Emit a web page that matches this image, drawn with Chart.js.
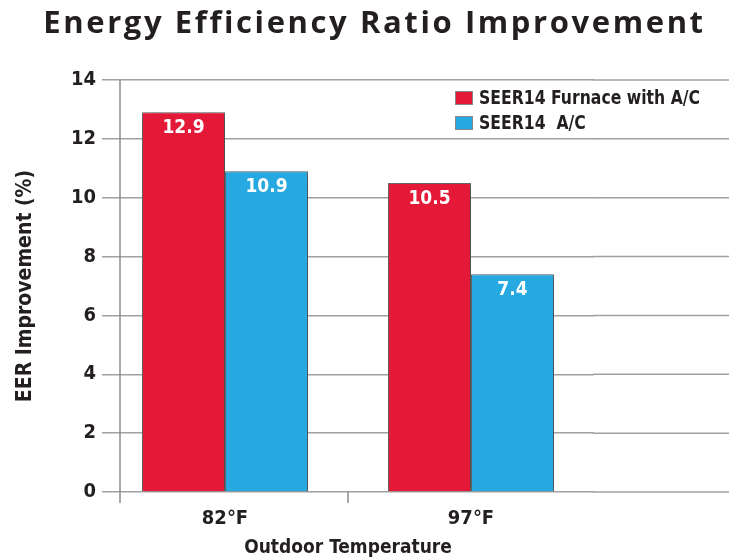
<!DOCTYPE html>
<html>
<head>
    <meta charset="utf-8">
    <title>Energy Efficiency Ratio Improvement</title>
    <script src="https://cdn.jsdelivr.net/npm/chart.js"></script>
    <style>
        html, body {
            margin: 0;
            background: #fff;
        }

        #wrap {
            position: relative;
            width: 729px;
            height: 559px;
        }

        #titulo {
            position: absolute;
            top: 0;
            left: 10px;
            width: 729px;
            text-align: center;
            font-family: 'Open Sans', sans-serif;
            font-weight: 700;
            font-size: 31px;
            letter-spacing: 2.6px;
            color: #231f20;
        }
    </style>
</head>
<body>
    <div id="wrap">
        <div id="titulo">Energy Efficiency Ratio Improvement</div>
        <canvas id="chart" width="729" height="559"></canvas>
    </div>

    <script>
        // datos
        const categories = ['82°F', '97°F'];
        const furnaceAC = [12.9, 10.5];
        const seerAC = [10.9, 7.4];
        const seriesNames = ['SEER14 Furnace with A/C', 'SEER14  A/C'];
        const yMin = 0;
        const yMax = 14;
        const yStep = 2;

        const narrow = "'Liberation Sans Narrow', 'DejaVu Sans Condensed', sans-serif";
        const rojo = '#e31937';
        const azul = '#26a9e0';
        const gris = '#a0a0a0';
        const tinta = '#231f20';

        // sombra detras de las barras
        const sombra = {
            id: 'sombra',
            beforeDatasetsDraw(chart) {
                const ctx = chart.ctx;
                ctx.save();
                ctx.shadowColor = 'rgba(0,0,0,0.4)';
                ctx.shadowBlur = 10;
                ctx.shadowOffsetX = 3;
                ctx.shadowOffsetY = 3;
            },
            afterDatasetsDraw(chart) {
                chart.ctx.restore();
            }
        };

        // valores dentro de las barras
        const etiquetas = {
            id: 'etiquetas',
            afterDatasetsDraw(chart) {
                const ctx = chart.ctx;
                ctx.save();
                ctx.fillStyle = '#fff';
                ctx.font = 'bold 19px ' + narrow;
                ctx.textAlign = 'center';
                ctx.textBaseline = 'middle';
                chart.data.datasets.forEach((ds, i) => {
                    chart.getDatasetMeta(i).data.forEach((bar, j) => {
                        ctx.fillText(ds.data[j].toFixed(1), bar.x, bar.y + 16);
                    });
                });
                ctx.restore();
            }
        };

        // ejes, lineas extendidas y leyenda
        const extras = {
            id: 'extras',
            afterDraw(chart) {
                const ctx = chart.ctx;
                const area = chart.chartArea;
                const y = chart.scales.y;
                const x = chart.scales.x;
                ctx.save();

                // lineas de grilla hasta el borde derecho
                ctx.strokeStyle = gris;
                ctx.lineWidth = 1.5;
                y.ticks.forEach(t => {
                    const py = y.getPixelForValue(t.value);
                    ctx.beginPath();
                    ctx.moveTo(area.right - 1, py);
                    ctx.lineTo(chart.width, py);
                    ctx.stroke();
                });

                // eje vertical y marca entre categorias
                ctx.strokeStyle = '#8c8c8c';
                const ejeX = area.left + 18;
                ctx.beginPath();
                ctx.moveTo(ejeX, area.top);
                ctx.lineTo(ejeX, area.bottom + 11);
                ctx.stroke();
                const medio = (x.getPixelForValue(0) + x.getPixelForValue(1)) / 2;
                ctx.beginPath();
                ctx.moveTo(medio, area.bottom);
                ctx.lineTo(medio, area.bottom + 11);
                ctx.stroke();

                // leyenda
                ctx.font = 'bold 20px ' + narrow;
                ctx.textBaseline = 'middle';
                ctx.textAlign = 'left';
                const lx = chart.width - 274;
                const ancho = chart.width - 29 - (lx + 24);
                const largo = ctx.measureText(chart.data.datasets[0].label).width;
                const esc = Math.min(1, ancho / largo);
                chart.data.datasets.forEach((ds, i) => {
                    const ly = area.top + 18 + i * 25;
                    ctx.fillStyle = ds.backgroundColor;
                    ctx.fillRect(lx, ly - 7, 18, 14);
                    ctx.strokeStyle = '#888';
                    ctx.lineWidth = 1;
                    ctx.strokeRect(lx + 0.5, ly - 6.5, 17, 13);
                    ctx.fillStyle = tinta;
                    ctx.save();
                    ctx.translate(lx + 24, ly + 1);
                    ctx.scale(esc, 1);
                    ctx.fillText(ds.label, 0, 0);
                    ctx.restore();
                });
                ctx.restore();
            }
        };

        const ctx = document.getElementById('chart').getContext('2d');

        const chart = new Chart(ctx, {
            type: 'bar',
            data: {
                labels: categories,
                datasets: [{
                    label: seriesNames[0],
                    data: furnaceAC,
                    backgroundColor: rojo,
                    borderColor: '#6d6e71',
                    borderWidth: 1
                }, {
                    label: seriesNames[1],
                    data: seerAC,
                    backgroundColor: azul,
                    borderColor: '#6d6e71',
                    borderWidth: 1
                }]
            },
            options: {
                responsive: false,
                animation: false,
                layout: {
                    padding: { top: 80, right: 135, left: 0, bottom: 0 }
                },
                plugins: {
                    legend: { display: false },
                    tooltip: { enabled: false }
                },
                datasets: {
                    bar: {
                        categoryPercentage: 0.675,
                        barPercentage: 1
                    }
                },
                scales: {
                    x: {
                        grid: { display: false },
                        border: { display: false },
                        ticks: {
                            color: tinta,
                            padding: 7,
                            font: { family: narrow, size: 20, weight: 'bold' }
                        },
                        title: {
                            display: true,
                            text: 'Outdoor Temperature',
                            color: tinta,
                            padding: 0,
                            font: { family: narrow, size: 19, weight: 'bold' }
                        },
                        afterFit: s => { s.height = 67; }
                    },
                    y: {
                        min: yMin,
                        max: yMax,
                        grid: {
                            color: gris,
                            lineWidth: 1.5,
                            drawTicks: false
                        },
                        border: { display: false },
                        ticks: {
                            stepSize: yStep,
                            color: tinta,
                            padding: 6,
                            font: { family: narrow, size: 20, weight: 'bold' }
                        },
                        title: {
                            display: true,
                            text: 'EER Improvement (%)',
                            color: tinta,
                            padding: { top: 13, bottom: 0 },
                            font: { family: narrow, size: 21, weight: 'bold' }
                        },
                        afterFit: s => { s.width = 102; }
                    }
                }
            },
            plugins: [sombra, etiquetas, extras]
        });
    </script>
</body>
</html>
